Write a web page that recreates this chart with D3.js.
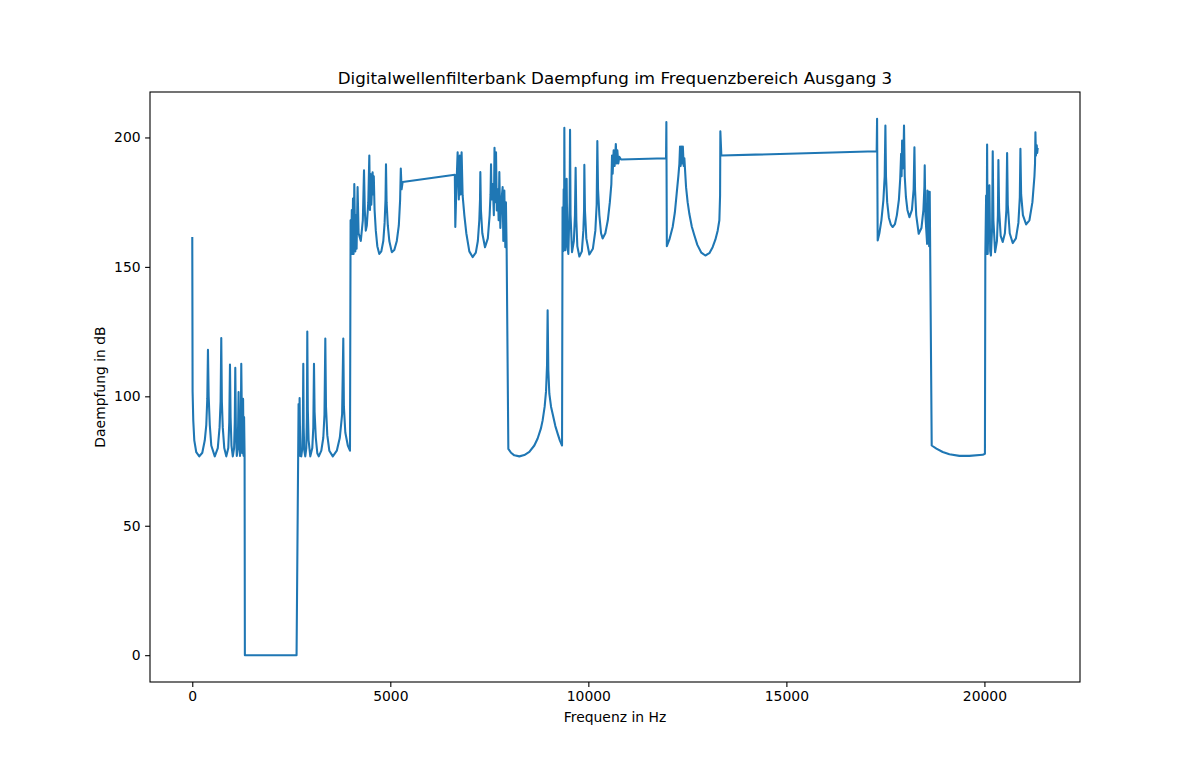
<!DOCTYPE html>
<html>
<head>
<meta charset="utf-8">
<script src="https://cdn.jsdelivr.net/npm/d3@7"></script>
<style>
  body { margin: 0; background: #fff; }
  text { font-family: "DejaVu Sans", sans-serif; }
</style>
</head>
<body>
<script>
// Daempfung von Ausgang 3: [Frequenz in Hz, Daempfung in dB]
var messpunkte = [
  // 0 .. 1350 Hz
  [0, 161.5], [8, 102], [25, 90.7], [51, 83], [101, 78.4], [177, 76.8], [253, 78.2], [316, 83], [354, 89], [379, 99], [396, 118],
  [414, 100], [442, 89], [480, 81], [568, 76.8], [644, 80], [689, 88], [715, 98], [732, 122.5],
  [747, 98], [770, 88], [808, 80], [859, 76.8], [909, 80], [934, 90], [952, 112.3],
  [967, 92], [990, 81], [1023, 76.8], [1056, 80], [1073, 90], [1086, 111],
  [1101, 88], [1124, 77], [1149, 80], [1169, 101.7],
  [1184, 85], [1205, 77], [1222, 82], [1237, 112.6],
  [1263, 78], [1283, 99], [1295, 77], [1308, 92], [1321, 77],
  // Sperrbereich
  [1328, 0], [2633, 0],
  // 2630 .. 4000 Hz
  [2684, 97], [2697, 77], [2710, 99.3], [2727, 77], [2752, 76.8], [2778, 80], [2793, 90], [2803, 112.6],
  [2813, 88], [2828, 79], [2853, 76.8], [2879, 80], [2894, 92], [2904, 125],
  [2917, 95], [2937, 83], [2980, 76.8], [3030, 80], [3056, 88], [3073, 112.6],
  [3088, 94], [3119, 84], [3157, 78], [3194, 76.8], [3258, 79], [3308, 84], [3338, 93], [3359, 122.3],
  [3376, 96], [3409, 85], [3460, 79], [3548, 76.8], [3649, 79], [3725, 84], [3783, 93], [3813, 122.3],
  [3828, 96], [3864, 86], [3927, 81], [3982, 79],
  // 4000 .. 5300 Hz
  [3997, 168], [4010, 155], [4028, 172], [4040, 155], [4058, 176.4], [4073, 155], [4091, 182], [4116, 156],
  [4134, 170], [4149, 157], [4174, 180.8], [4199, 163], [4255, 160], [4306, 168], [4336, 187.3], [4356, 172],
  [4381, 164], [4407, 166], [4444, 175], [4470, 193], [4487, 172], [4503, 185.9], [4520, 174], [4553, 186.5],
  [4571, 178], [4583, 185],
  [4603, 172], [4634, 164], [4672, 158], [4722, 155], [4773, 156], [4823, 160], [4856, 167], [4879, 176], [4891, 189.6],
  [4906, 175], [4937, 166], [4975, 160], [5038, 155.7], [5101, 156.5], [5164, 160], [5215, 166], [5248, 176], [5265, 188],
  [5285, 180], [5311, 182.8],
  // 6600 .. 8000 Hz
  [6629, 185.6], [6641, 165.4], [6667, 180], [6700, 194.3], [6730, 176], [6755, 193], [6775, 178], [6800, 194.3], [6826, 177.6],
  [6869, 170], [6919, 163], [6995, 156], [7078, 153.8], [7159, 155.5], [7210, 160], [7247, 168], [7265, 176], [7273, 186.6],
  [7288, 172], [7323, 163], [7391, 157.6], [7462, 161], [7508, 170], [7530, 178], [7543, 189.6],
  [7558, 176], [7588, 182], [7614, 170], [7631, 196], [7647, 175], [7669, 194.3], [7689, 171.8], [7715, 180],
  [7735, 168], [7753, 186.6], [7778, 165], [7803, 175], [7836, 180.8], [7853, 160], [7879, 179.5], [7904, 157.6],
  [7919, 175], [7937, 157],
  // 8000 .. 9300 Hz
  [7980, 79.7], [8048, 78.2], [8131, 77.2], [8258, 76.8], [8384, 77.3], [8510, 78.5], [8636, 81], [8720, 83.7],
  [8801, 87.5], [8846, 90.7], [8897, 96], [8932, 102], [8957, 112], [8972, 133.2], [8990, 110], [9015, 101],
  [9058, 96], [9098, 93.3], [9167, 88.5], [9225, 85.6], [9280, 83], [9336, 81],
  // 9300 .. 10800 Hz
  [9349, 173], [9364, 156], [9377, 180], [9387, 156.4], [9394, 203.7], [9407, 160], [9419, 156.4], [9452, 184],
  [9470, 158], [9495, 155], [9528, 175], [9538, 203], [9551, 170], [9588, 155.7], [9634, 160], [9662, 170],
  [9679, 188.3], [9697, 168], [9722, 158], [9773, 154], [9836, 156], [9874, 164], [9892, 172], [9899, 189.4],
  [9914, 172], [9949, 161], [10025, 154.8], [10114, 157], [10177, 164], [10210, 174], [10227, 198.6], [10245, 180],
  [10278, 170], [10321, 163], [10361, 161], [10429, 163], [10492, 168], [10543, 175], [10581, 182], [10598, 193],
  [10614, 186], [10639, 195], [10664, 189], [10694, 197.5], [10715, 190], [10732, 195], [10757, 190], [10782, 192.5],
  [10825, 191.5],
  // 12000 .. 13400 Hz
  [11962, 192], [11970, 206], [11982, 158], [12045, 160.5], [12129, 165.4], [12184, 171], [12230, 178.3], [12272, 185],
  [12298, 189.7], [12315, 196.5], [12331, 189], [12348, 196.5], [12366, 190], [12386, 196.5], [12407, 189], [12424, 192],
  [12467, 180.8], [12507, 175], [12550, 170.5], [12613, 165.5], [12676, 162.2], [12752, 158.5], [12853, 155.5],
  [12954, 154.4], [13055, 155.3], [13138, 157.6], [13207, 160.5], [13265, 164], [13308, 168], [13326, 177.6],
  [13333, 202.4], [13358, 193],
  // 17300 .. 18650 Hz
  [17280, 194.7], [17290, 207.2], [17305, 160.2], [17348, 163], [17399, 168], [17449, 175.7], [17482, 185], [17500, 204.6],
  [17515, 185], [17545, 175], [17588, 169], [17639, 166.3], [17684, 165.4], [17740, 166.5], [17790, 170], [17841, 176],
  [17874, 184], [17897, 193.7], [17909, 185], [17922, 198.8], [17937, 188], [17955, 192], [17970, 204.6], [17988, 185],
  [18018, 177], [18056, 172], [18107, 169.2], [18170, 172], [18213, 180], [18233, 196.2], [18248, 180], [18278, 170],
  [18341, 162.8], [18410, 165], [18460, 172], [18485, 181], [18493, 189.2], [18510, 170], [18553, 158.9], [18561, 179.5],
  [18573, 160], [18591, 179], [18604, 158], [18619, 179], [18629, 160],
  // 18650 .. 20000 Hz
  [18669, 81], [18788, 79.8], [18947, 78.5], [19116, 77.6], [19369, 77], [19621, 77], [19957, 77.4], [20013, 77.8],
  // 20000 .. 21350 Hz
  [20023, 155], [20043, 177.6], [20056, 155], [20068, 197.3], [20083, 155], [20106, 170], [20126, 181.5], [20146, 156],
  [20164, 154.4], [20194, 165], [20210, 194.7], [20227, 168], [20270, 155.7], [20316, 160], [20341, 170], [20353, 191.3],
  [20371, 172], [20411, 162], [20462, 159.6], [20517, 163], [20555, 172], [20573, 194], [20590, 174], [20639, 163],
  [20714, 159.2], [20795, 161], [20858, 167], [20894, 177], [20909, 195.6], [20927, 178], [20972, 170], [21053, 166.4],
  [21136, 168], [21212, 175], [21263, 185], [21278, 190], [21288, 202], [21300, 193], [21321, 197], [21333, 194], [21346, 196]
];

var xTicks = [0, 5000, 10000, 15000, 20000];
var yTicks = [0, 50, 100, 150, 200];

var titel = "Digitalwellenfilterbank Daempfung im Frequenzbereich Ausgang 3";
var xTitel = "Frequenz in Hz";
var yTitel = "Daempfung in dB";

var width = 1200, height = 766;
var plotLeft = 150, plotRight = 1080, plotTop = 92, plotBottom = 682;

var svg = d3.select("body").append("svg")
  .attr("width", width)
  .attr("height", height);

svg.append("rect").attr("width", width).attr("height", height).attr("fill", "#fff");

// matplotlib-artige Raender: 5% auf jeder Seite
var xExt = d3.extent(messpunkte, function(d) { return d[0]; });
var yExt = d3.extent(messpunkte, function(d) { return d[1]; });
var xPad = (xExt[1] - xExt[0]) * 0.05;
var yPad = (yExt[1] - yExt[0]) * 0.05;

var x = d3.scaleLinear()
  .domain([xExt[0] - xPad, xExt[1] + xPad])
  .range([plotLeft, plotRight]);
var y = d3.scaleLinear()
  .domain([yExt[0] - yPad, yExt[1] + yPad])
  .range([plotBottom, plotTop]);

var line = d3.line()
  .x(function(d) { return x(d[0]); })
  .y(function(d) { return y(d[1]); });

svg.append("defs").append("clipPath").attr("id", "plotclip")
  .append("rect")
  .attr("x", plotLeft).attr("y", plotTop)
  .attr("width", plotRight - plotLeft).attr("height", plotBottom - plotTop);

svg.append("path")
  .datum(messpunkte)
  .attr("clip-path", "url(#plotclip)")
  .attr("d", line)
  .attr("fill", "none")
  .attr("stroke", "#1f77b4")
  .attr("stroke-width", 2.08)
  .attr("stroke-linejoin", "round");

// Achsen
var xAxis = svg.append("g")
  .attr("transform", "translate(0," + plotBottom + ")")
  .call(d3.axisBottom(x).tickValues(xTicks).tickFormat(d3.format("d")).tickSizeOuter(0).tickSize(4.9).tickPadding(4));
var yAxis = svg.append("g")
  .attr("transform", "translate(" + plotLeft + ",0)")
  .call(d3.axisLeft(y).tickValues(yTicks).tickFormat(d3.format("d")).tickSizeOuter(0).tickSize(4.9).tickPadding(4.5));

[xAxis, yAxis].forEach(function(a) {
  a.select(".domain").remove();
  a.selectAll(".tick line").attr("stroke", "#000").attr("stroke-width", 1.1);
  a.selectAll(".tick text")
    .attr("fill", "#000")
    .style("font-family", "DejaVu Sans")
    .style("font-size", "13.9px");
});

// Rahmen
svg.append("rect")
  .attr("x", plotLeft).attr("y", plotTop)
  .attr("width", plotRight - plotLeft).attr("height", plotBottom - plotTop)
  .attr("fill", "none")
  .attr("stroke", "#000")
  .attr("stroke-width", 1.1);

svg.append("text")
  .attr("x", (plotLeft + plotRight) / 2)
  .attr("y", 84)
  .attr("text-anchor", "middle")
  .style("font-size", "16.7px")
  .text(titel);

svg.append("text")
  .attr("x", (plotLeft + plotRight) / 2)
  .attr("y", 722)
  .attr("text-anchor", "middle")
  .style("font-size", "13.9px")
  .text(xTitel);

svg.append("text")
  .attr("transform", "translate(105," + ((plotTop + plotBottom) / 2) + ")rotate(-90)")
  .attr("text-anchor", "middle")
  .style("font-size", "13.9px")
  .text(yTitel);
</script>
</body>
</html>
